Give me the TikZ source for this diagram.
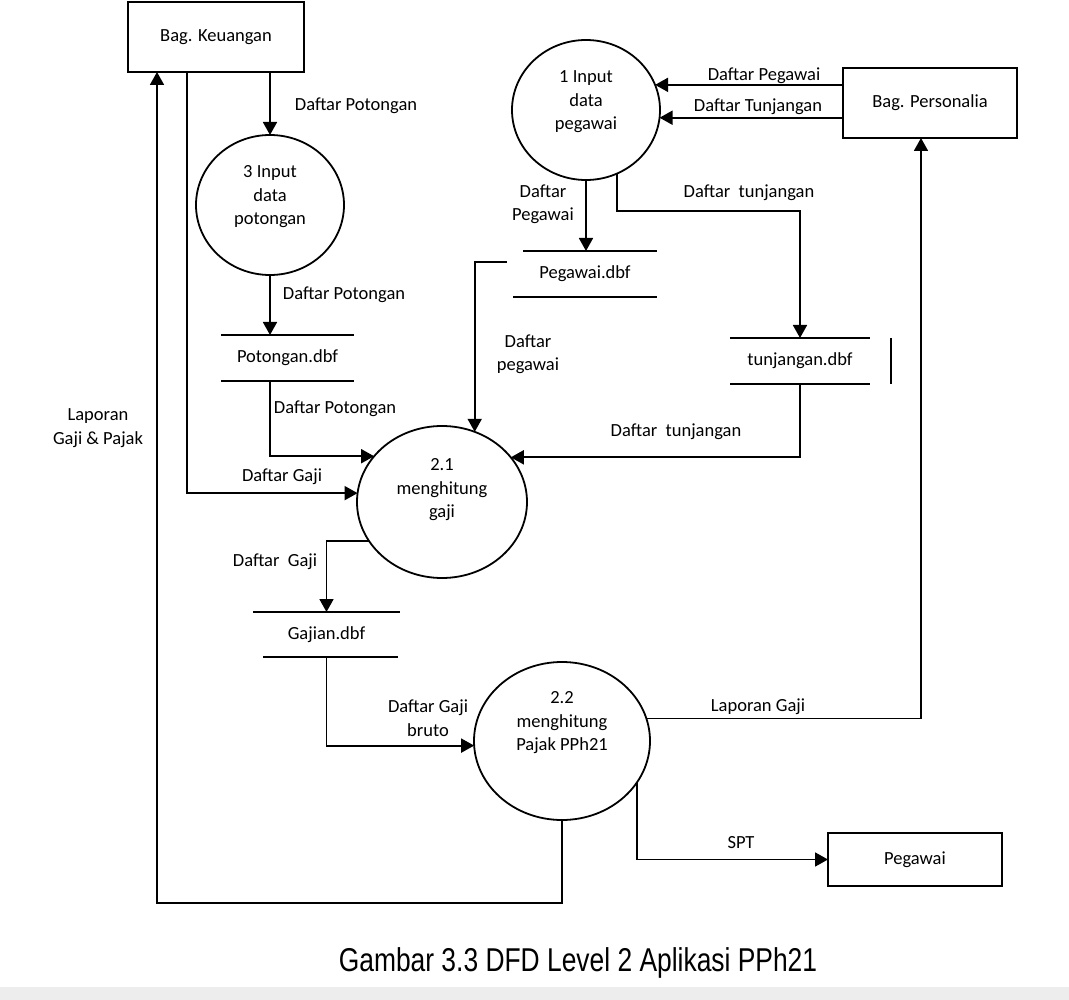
\documentclass[tikz,border=0pt]{standalone}
\usepackage{fontspec}
\setmainfont{Carlito}
\newfontfamily\capfont[FakeStretch=0.8]{Liberation Sans}
\usetikzlibrary{arrows.meta,shapes.geometric,calc}
\begin{document}
\begin{tikzpicture}[x=1pt,y=-1pt,
  every node/.style={font=\fontsize{18.5}{23.5}\selectfont, inner sep=0pt, outer sep=0pt},
  line/.style={line width=1.8pt},
  flow/.style={line width=1.8pt,-{Triangle[length=13pt,width=14pt]}},
  entity/.style={draw,rectangle,line width=1.8pt},
  proc/.style={draw,ellipse,line width=1.8pt},
  store/.style={rectangle},
  lbl/.style={align=center}]
\fill[white] (0,0) rectangle (1069,1000);
\useasboundingbox (0,0) rectangle (1069,1000);
\fill[gray!14] (0,987) rectangle (1069,1000);

% entities
\node[entity,minimum width=176pt,minimum height=70pt] (keu) at (216,37) {Bag. Keuangan};
\node[entity,minimum width=174pt,minimum height=70pt] (per) at (930,103) {Bag. Personalia};
\node[entity,minimum width=174pt,minimum height=53pt] (peg) at (915,859.5) {Pegawai};

% processes
\node[proc,minimum width=148pt,minimum height=140pt,
  label={[yshift=8pt,align=center]center:3 Input\\data\\potongan}] (c3) at (270,205) {};
\node[proc,minimum width=148pt,minimum height=140pt,
  label={[yshift=8pt,align=center]center:1 Input\\data\\pegawai}] (c1) at (586,110) {};
\node[proc,minimum width=170pt,minimum height=152pt,
  label={[yshift=12pt,align=center]center:2.1\\menghitung\\gaji}] (c21) at (442,502) {};
\node[proc,minimum width=176pt,minimum height=158pt,
  label={[yshift=18pt,align=center]center:2.2\\menghitung\\Pajak PPh21}] (c22) at (562,741) {};

% data stores
\node[store,minimum width=133pt,minimum height=46pt] (spot) at (287.5,358) {Potongan.dbf};
\draw[line] (spot.north west) -- (spot.north east) (spot.south west) -- (spot.south east);
\node[store,minimum width=144pt,minimum height=46pt] (speg) at (585,274) {Pegawai.dbf};
\draw[line] ([xshift=10pt]speg.north west) -- (speg.north east) (speg.south west) -- (speg.south east);
\node[store,minimum width=140pt,minimum height=46pt] (stun) at (800,361) {tunjangan.dbf};
\draw[line] (stun.north west) -- (stun.north east) (stun.south west) -- (stun.south east);
\draw[line width=1.2pt] ([xshift=21pt]stun.north east) -- ([xshift=21pt]stun.south east);
\node[store,minimum width=147pt,minimum height=45pt] (sgaj) at (326.5,634.5) {Gajian.dbf};
\draw[line] (sgaj.north west) -- (sgaj.north east) ([xshift=10pt]sgaj.south west) -- ([xshift=-2pt]sgaj.south east);

% flows
\draw[flow] (keu.south -| c3.north) -- (c3.north);
\draw[flow] (c3.south) -- (c3.south |- spot.north);
\draw[flow] (c3.south |- spot.south) |- (c21.146);
\draw[flow] ([xshift=-29pt]keu.south) |- (c21.174);
\draw[flow] (per.west |- c1.20) -- (c1.20);
\draw[flow] (per.west |- c1.354) -- (c1.354);
\draw[flow] (c1.south) -- (c1.south |- speg.north);
\coordinate (tb) at (800,211);
\draw[flow] (c1.296) |- (tb) -- (stun.north);
\coordinate (ps) at (507,262);
\draw[flow] (ps) -| (c21.65);
\draw[flow] (stun.south) |- (c21.33);
\draw[flow] (c21.208) -| (sgaj.north);
\draw[flow] (sgaj.south) |- (c22.183);
\draw[flow] (c22.15) -| ([xshift=-9pt]per.south);
\draw[flow] (c22.331) |- (peg.west);
\coordinate (lb) at (157,903);
\draw[flow] (c22.south) |- (lb) -- ([xshift=-59pt]keu.south);

% labels
\node[lbl] (l1) at (356,106) {Daftar Potongan};
\node[lbl] (l2) at (344,295) {Daftar Potongan};
\node[lbl] (l3) at (335,409) {Daftar Potongan};
\node[lbl] (l4) at (282,477) {Daftar Gaji};
\node[lbl] (l5) at (275,562) {Daftar\ \ Gaji};
\node[lbl] (l6) at (428,718) {Daftar Gaji\\bruto};
\node[lbl] (l7) at (98,428) {Laporan\\Gaji \& Pajak};
\node[lbl] (l8) at (764,76) {Daftar Pegawai};
\node[lbl] (l9) at (758,107) {Daftar Tunjangan};
\node[lbl] (l10) at (543,204) {Daftar\\Pegawai};
\node[lbl] (l11) at (749,193) {Daftar\ \ tunjangan};
\node[lbl] (l12) at (528,354) {Daftar\\pegawai};
\node[lbl] (l13) at (676,432) {Daftar\ \ tunjangan};
\node[lbl] (l14) at (758,707) {Laporan Gaji};
\node[lbl] (l15) at (741,843) {SPT};

\node[font=\capfont\fontsize{33}{40}\selectfont] (cap) at (578,963) {Gambar 3.3 DFD Level 2 Aplikasi PPh21};
\end{tikzpicture}
\end{document}
